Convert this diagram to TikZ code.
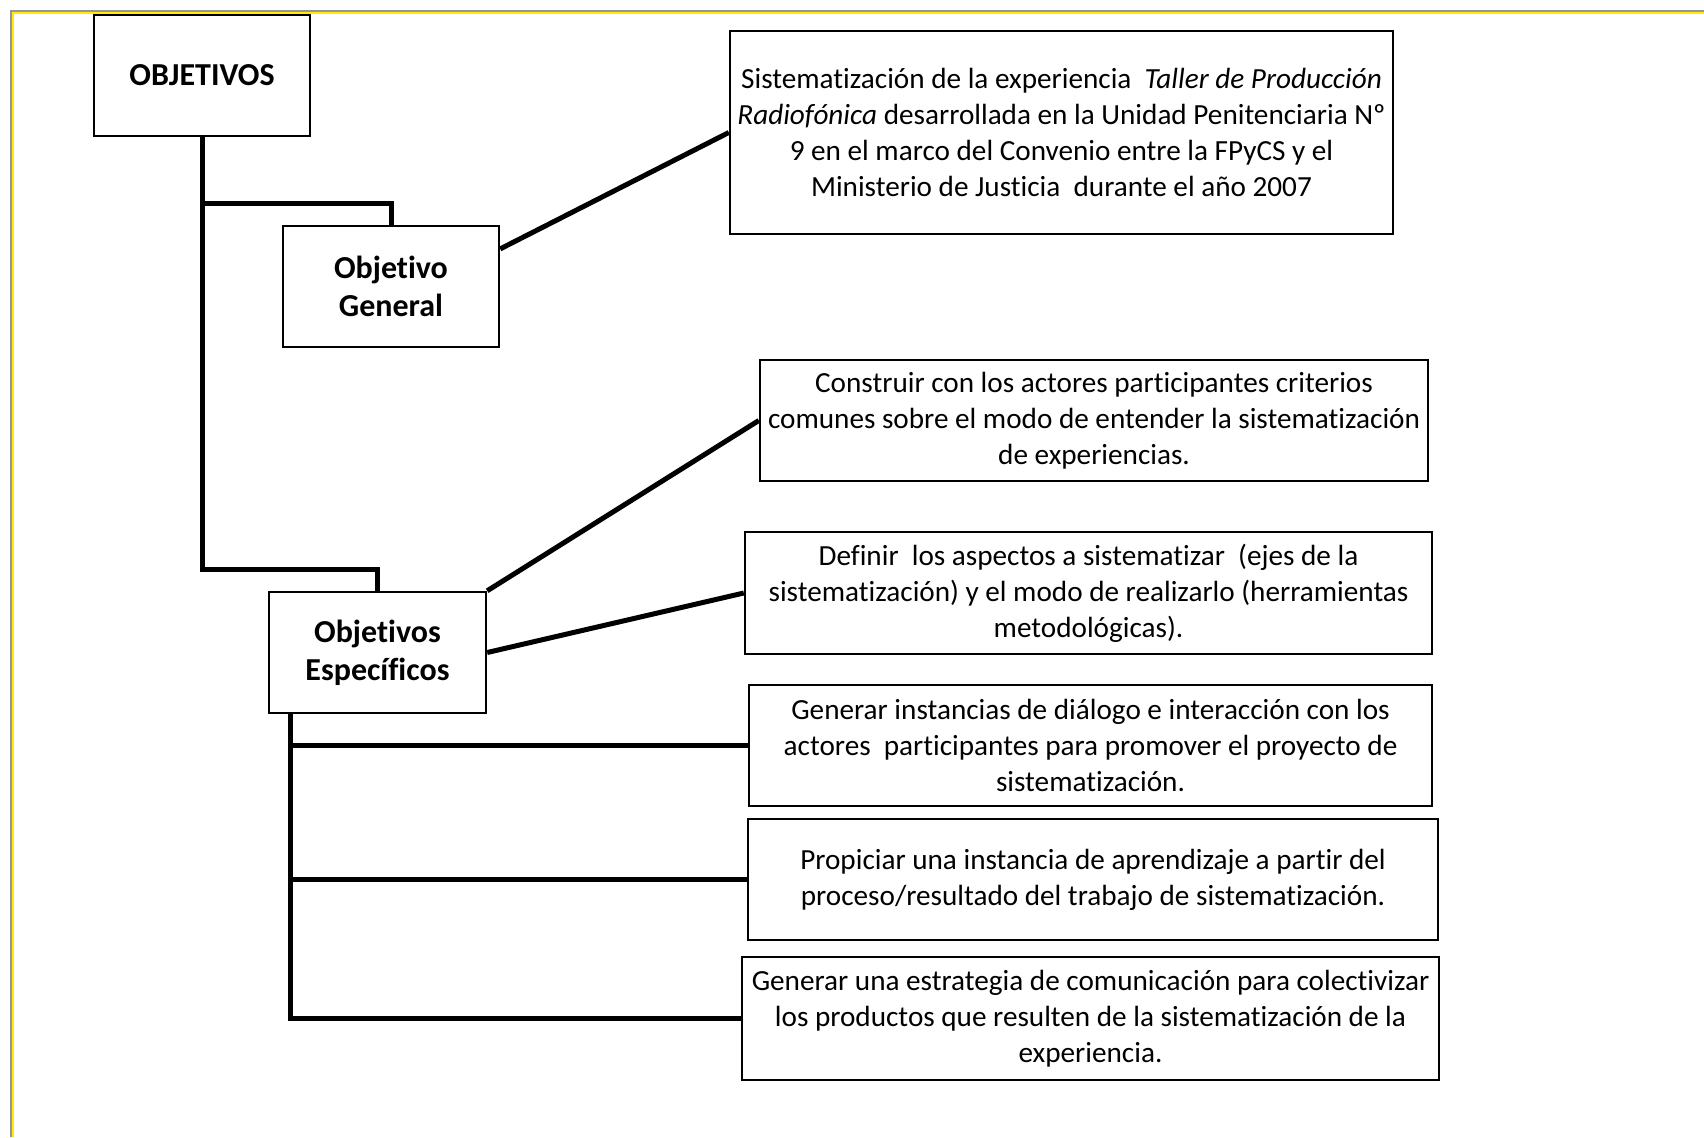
\documentclass[tikz,border=0pt]{standalone}
\usepackage{fontspec}
\setmainfont{Carlito}[Ligatures=NoCommon]
\usetikzlibrary{calc}
\definecolor{framegray}{RGB}{150,150,150}
\definecolor{frameyellow}{RGB}{255,236,0}

\begin{document}
\begin{tikzpicture}[x=0.5pt, y=-0.5pt,
  head/.style={draw, line width=1.2pt, minimum width=108pt, minimum height=60.5pt, align=center, inner sep=0pt, font=\fontsize{16}{19}\selectfont\bfseries},
  goal/.style={draw, line width=1.2pt, minimum height=60.5pt, align=center, inner sep=0pt, font=\fontsize{14.6}{18}\selectfont},
  link/.style={line width=2.5pt}
]
\useasboundingbox (0,0) rectangle (1704,1137);
\draw[framegray, line width=1pt] (10.5,1137) -- (10.5,10.5) -- (1704,10.5);
\draw[frameyellow, line width=1.1pt] (12.7,1137) -- (12.7,12.7) -- (1704,12.7);

\node[head] (obj) at (202,75.5) {OBJETIVOS};
\node[head] (gen) at (391,286.5) {Objetivo\\General};
\node[head, minimum width=108.5pt] (esp) at (377.5,652.5) {Objetivos\\Específicos};

\node[goal, minimum width=331.5pt, minimum height=101.5pt] (gentxt) at (1061.5,132.5) {Sistematización de la experiencia\ \ \textit{Taller de Producción}\\\textit{Radiofónica} desarrollada en la Unidad Penitenciaria Nº\\9 en el marco del Convenio entre la FPyCS y el\\Ministerio de Justicia\ \ durante el año 2007};
\node[goal, minimum width=334pt] (esp1) at (1094,420.5) {Construir con los actores participantes criterios\\comunes sobre el modo de entender la sistematización\\de experiencias.};
\node[goal, minimum width=343.5pt, minimum height=61pt] (esp2) at (1088.5,593) {Definir\ \ los aspectos a sistematizar\ \ (ejes de la\\sistematización) y el modo de realizarlo (herramientas\\metodológicas).};
\node[goal, minimum width=341.5pt] (esp3) at (1090.5,745.5) {Generar instancias de diálogo e interacción con los\\actores\ \ participantes para promover el proyecto de\\sistematización.};
\node[goal, minimum width=345pt] (esp4) at (1093,879.5) {Propiciar una instancia de aprendizaje a partir del\\proceso/resultado del trabajo de sistematización.};
\node[goal, minimum width=348.5pt, minimum height=61.5pt] (esp5) at (1090.5,1018.5) {Generar una estrategia de comunicación para colectivizar\\los productos que resulten de la sistematización de la\\experiencia.};

\coordinate (genbend) at (391,203);
\coordinate (espbend) at (377.5,569);
\coordinate (trunk) at ($(esp.south west)+(23,0)$);

\draw[link] (obj.south) |- (genbend) -- (gen.north);
\draw[link] (obj.south) |- (espbend) -- (esp.north);
\draw[link] (gen.19) -- (gentxt.west);
\draw[link] (esp.north east) -- (esp1.west);
\draw[link] (esp.east) -- (esp2.west);
\draw[link] (trunk) |- (esp5.west);
\draw[link] (trunk |- esp3.west) -- (esp3.west);
\draw[link] (trunk |- esp4.west) -- (esp4.west);
\end{tikzpicture}
\end{document}
